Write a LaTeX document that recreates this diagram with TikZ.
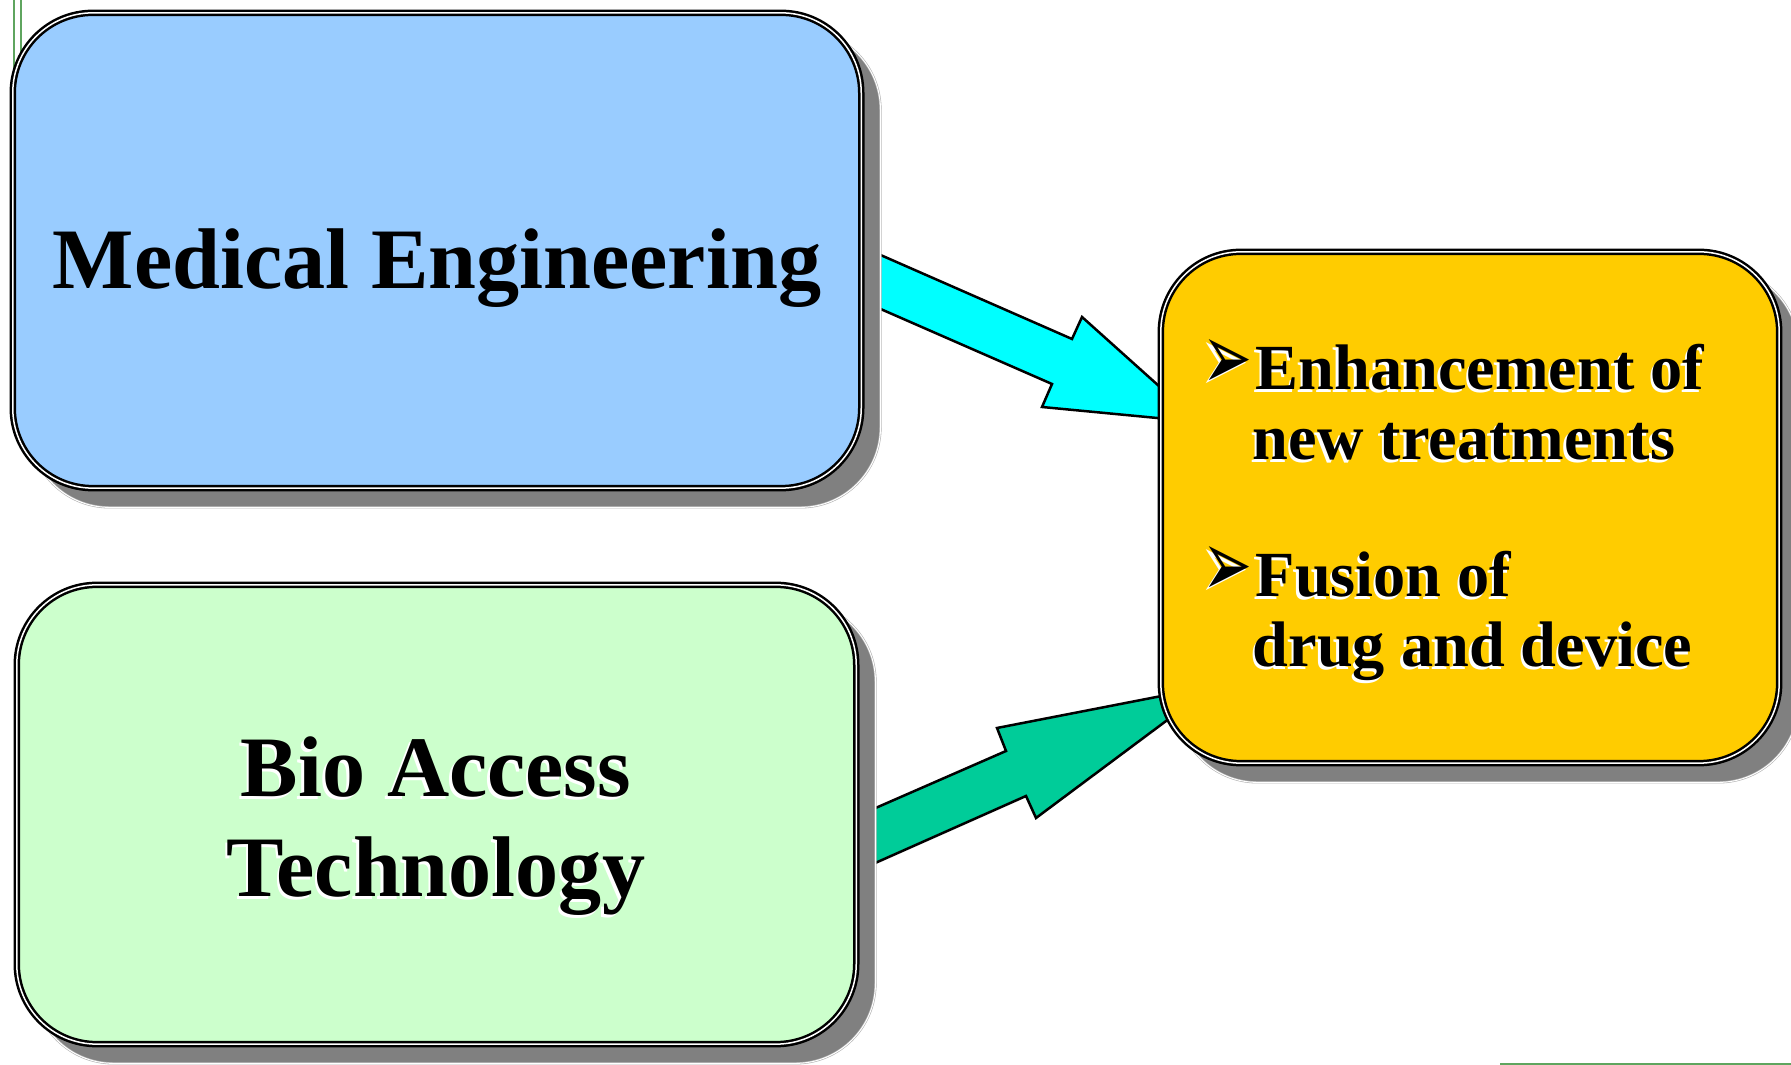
\documentclass[tikz,border=0pt]{standalone}
\usepackage{fontspec}
\setmainfont{Liberation Serif}
\newfontfamily\dejavu{DejaVu Sans}
\usetikzlibrary{backgrounds}

\definecolor{medblue}{HTML}{99CCFF}
\definecolor{biogreen}{HTML}{CCFFCC}
\definecolor{resgold}{HTML}{FFCC00}
\definecolor{arrcyan}{HTML}{00FFFF}
\definecolor{arrgreen}{HTML}{00CC99}
\definecolor{framegreen}{RGB}{95,165,95}

% white text shadow, bullet
\newcommand\shd[1]{\rlap{\kern-0.7pt\raisebox{-0.7pt}{\color{white}#1}}#1}
\newcommand\bul{\llap{\shd{\resizebox{0.5cm}{0.5cm}{\dejavu ➢}}\kern1pt}}

\tikzset{
  box/.style={draw=black, double=white, line width=0.25mm, double distance=0.15mm,
    rounded corners=0.8cm, inner sep=0pt},
  boxshadow/.style={fill=gray, draw=gray!60, double=white, line width=0.06mm,
    double distance=0.1mm, rounded corners=0.8cm},
  bigtxt/.style={font=\fontsize{24.5pt}{28.5pt}\selectfont\bfseries, anchor=base, inner sep=0pt},
  smalltxt/.style={font=\fontsize{18.3pt}{20pt}\selectfont\bfseries, anchor=base west, inner sep=0pt},
  blockarrow/.style={draw=black, line width=0.25mm, line join=miter}
}

\begin{document}
\begin{tikzpicture}[x=0.01cm, y=-0.01cm]
\useasboundingbox (0,0) rectangle (1791,1065);

% Boxes
\node[box, fill=medblue, minimum width=8.48cm, minimum height=4.75cm] (med) at (437,250.5) {};
\node[box, fill=biogreen, minimum width=8.39cm, minimum height=4.59cm] (bio) at (436.5,814.5) {};
\node[box, fill=resgold, minimum width=6.18cm, minimum height=5.11cm] (res) at (1470,507.5) {};

% Block arrows, shadows and frame lines, behind the boxes
\begin{scope}[on background layer]
\draw[framegreen, line width=0.02cm] (14,0) -- (14,120);
\draw[framegreen, line width=0.02cm] (21,0) -- (21,120);
\draw[framegreen, line width=0.02cm] (1500,1064) -- (1791,1064);
\draw[blockarrow, fill=arrcyan]
  (860,246) -- (1072,339) -- (1082,317) -- (1199,422) -- (1042,407) -- (1052,384) -- (860,300) -- cycle;
\draw[blockarrow, fill=arrgreen]
  (855,817) -- (1006,751) -- (997,728) -- (1213,686) -- (1036,818) -- (1026,796) -- (855,872) -- cycle;
\foreach \b in {med,bio,res}
  \draw[boxshadow] ([shift={(18,18)}]\b.north west) rectangle ([shift={(18,18)}]\b.south east);
\end{scope}

% Labels
\node[bigtxt] (medtxt) at (437,289) {Medical Engineering};
\node[bigtxt] (bio1) at (436,797) {\shd{Bio Access}};
\node[bigtxt] (bio2) at (436,897) {\shd{Technology}};
\node[smalltxt] (enh1) at (1255,390) {\bul\shd{Enhancement of}};
\node[smalltxt] (enh2) at (1252,460) {\shd{new treatments}};
\node[smalltxt] (fus1) at (1255,597) {\bul\shd{Fusion of}};
\node[smalltxt] (fus2) at (1252,667) {\shd{drug and device}};

\end{tikzpicture}
\end{document}
